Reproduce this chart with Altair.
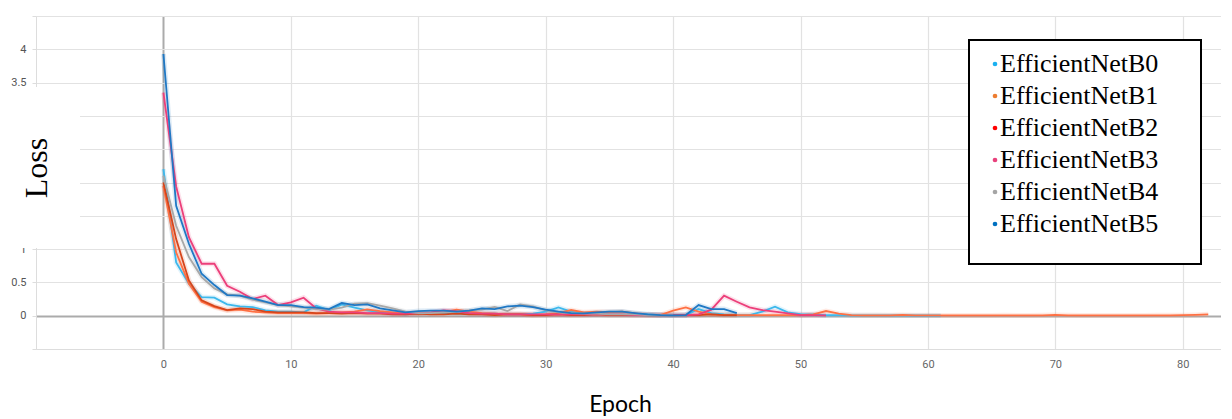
import altair as alt
import pandas as pd

models = ["EfficientNetB0", "EfficientNetB1", "EfficientNetB2",
          "EfficientNetB3", "EfficientNetB4", "EfficientNetB5"]

b0_loss = [2.20, 0.80, 0.48, 0.28, 0.27, 0.17, 0.14, 0.13, 0.08, 0.06,
           0.06, 0.05, 0.15, 0.08, 0.17, 0.12, 0.08, 0.05, 0.03, 0.02,
           0.03, 0.03, 0.04, 0.03, 0.03, 0.03, 0.03, 0.02, 0.02, 0.03,
           0.06, 0.125, 0.06, 0.03, 0.03, 0.05, 0.06, 0.03, 0.02, 0.01,
           0.01, 0.01, 0.10, 0.04, 0.02, 0.01, 0.01, 0.06, 0.135, 0.05,
           0.025, 0.02, 0.01, 0.01, 0.006, 0.005, 0.005, 0.004, 0.004, 0.003,
           0.003, 0.003]
b1_loss = [1.95, 0.95, 0.48, 0.21, 0.13, 0.08, 0.09, 0.06, 0.05, 0.04,
           0.04, 0.04, 0.03, 0.04, 0.05, 0.06, 0.095, 0.07, 0.05, 0.03,
           0.03, 0.04, 0.05, 0.09, 0.06, 0.04, 0.03, 0.02, 0.02, 0.01,
           0.02, 0.04, 0.085, 0.05, 0.06, 0.055, 0.06, 0.035, 0.01, 0.01,
           0.075, 0.125, 0.06, 0.02, 0.01, 0.01, 0.01, 0.01, 0.01, 0.01,
           0.01, 0.02, 0.07, 0.03, 0.01, 0.006, 0.005, 0.006, 0.012, 0.006,
           0.005, 0.004, 0.004, 0.004, 0.004, 0.004, 0.005, 0.004, 0.004, 0.006,
           0.012, 0.006, 0.004, 0.004, 0.004, 0.004, 0.004, 0.004, 0.005, 0.006,
           0.008, 0.012, 0.02]
b2_loss = [2.00, 1.15, 0.53, 0.23, 0.145, 0.085, 0.11, 0.10, 0.06, 0.05,
           0.05, 0.05, 0.04, 0.04, 0.03, 0.04, 0.03, 0.03, 0.02, 0.02,
           0.03, 0.02, 0.02, 0.03, 0.02, 0.02, 0.01, 0.02, 0.02, 0.01,
           0.01, 0.02, 0.01, 0.01, 0.02, 0.01, 0.01, 0.01, 0.01, 0.01,
           0.01, 0.01, 0.01, 0.02, 0.01, 0.01]
b3_loss = [3.35, 1.94, 1.18, 0.78, 0.78, 0.45, 0.36, 0.25, 0.30, 0.16,
           0.20, 0.27, 0.11, 0.06, 0.05, 0.05, 0.04, 0.04, 0.03, 0.03,
           0.04, 0.05, 0.08, 0.07, 0.04, 0.03, 0.03, 0.02, 0.02, 0.02,
           0.02, 0.02, 0.02, 0.02, 0.02, 0.02, 0.02, 0.01, 0.01, 0.01,
           0.01, 0.01, 0.02, 0.09, 0.30, 0.21, 0.125, 0.085, 0.06, 0.035,
           0.01, 0.01, 0.005]
b4_loss = [2.10, 1.35, 0.88, 0.58, 0.41, 0.32, 0.30, 0.24, 0.20, 0.16,
           0.14, 0.12, 0.10, 0.09, 0.12, 0.18, 0.19, 0.15, 0.11, 0.06,
           0.04, 0.04, 0.05, 0.06, 0.08, 0.09, 0.13, 0.07, 0.17, 0.14,
           0.08, 0.05, 0.04, 0.03, 0.03, 0.02, 0.02, 0.02, 0.01, 0.01,
           0.01]
b5_loss = [3.93, 1.65, 1.08, 0.63, 0.46, 0.31, 0.30, 0.26, 0.21, 0.16,
           0.16, 0.13, 0.12, 0.10, 0.19, 0.16, 0.17, 0.11, 0.08, 0.05,
           0.07, 0.075, 0.075, 0.06, 0.075, 0.11, 0.10, 0.14, 0.15, 0.13,
           0.09, 0.06, 0.04, 0.035, 0.05, 0.06, 0.06, 0.04, 0.02, 0.01,
           0.005, 0.01, 0.16, 0.10, 0.10, 0.04]

series = [b0_loss, b1_loss, b2_loss, b3_loss, b4_loss, b5_loss]

line_colors = ["#3db8ec", "#ff7043", "#d6451b", "#ec3f7a", "#a8a8a8", "#1f78c4"]
legend_colors = ["#1ab0f0", "#ed7d31", "#ff0000", "#e8417c", "#a5a5a5", "#0070c0"]

x_ticks = [0, 10, 20, 30, 40, 50, 60, 70, 80]
y_ticks = [-0.5, 0, 0.5, 1, 1.5, 2, 2.5, 3, 3.5, 4, 4.5]
y_labels_shown = [0, 0.5, 1, 3.5, 4]

rows = []
for m, vals in zip(models, series):
    for e, v in enumerate(vals):
        rows.append({"model": m, "epoch": e, "loss": v})
df = pd.DataFrame(rows)

grid_color = {"condition": {"test": "datum.value === 0", "value": "#ababab"}, "value": "#e2e2e2"}
grid_width = {"condition": {"test": "datum.value === 0", "value": 2}, "value": 1.2}

x_enc = alt.X(
    "epoch:Q",
    scale=alt.Scale(domain=[-10, 83], nice=False, zero=False),
    axis=alt.Axis(
        values=x_ticks, title="Epoch", grid=True,
        gridColor=grid_color, gridWidth=grid_width,
        domainColor="#dddddd", ticks=False,
        labelFont="Roboto", labelFontSize=11, labelColor="#666666", labelPadding=9,
        titleFont="Lato", titleFontSize=23, titleFontWeight="normal", titleColor="#000000",
        titlePadding=24, titleX=584,
    ),
)
y_enc = alt.Y(
    "loss:Q",
    scale=alt.Scale(domain=[-0.5, 4.5], nice=False, zero=False),
    axis=alt.Axis(
        values=y_ticks, title=None, grid=True, format="~g",
        gridColor=grid_color, gridWidth=grid_width,
        labelExpr="indexof(" + str(y_labels_shown) + ", datum.value) >= 0 ? datum.label : ''",
        domainColor="#dddddd", tickColor="#dddddd", tickSize=4,
        labelFont="Roboto", labelFontSize=11, labelColor="#555555", labelPadding=6,
    ),
)
# stroke scale uses the data-derived (alphabetical) domain so its (disabled) legend
# is not merged with the visible fill legend below
stroke_enc = alt.Stroke("model:N", scale=alt.Scale(range=line_colors), legend=None)

dummy = pd.DataFrame({"k": [0]})

# legend frame (drawn below the legend itself)
legend_box = alt.Chart(dummy).mark_rect(
    fill="#ffffff", stroke="#000000", strokeWidth=2
).encode(x=alt.value(933), x2=alt.value(1165), y=alt.value(24), y2=alt.value(248))

base = alt.Chart(df)
halo = base.mark_line(strokeWidth=5, opacity=0.15).encode(x=x_enc, y=y_enc, stroke=stroke_enc)
lines = base.mark_line(strokeWidth=1.8).encode(x=x_enc, y=y_enc, stroke=stroke_enc)
legend_pts = base.mark_circle(size=1, opacity=0).encode(
    x=x_enc, y=y_enc,
    fill=alt.Fill(
        "model:N",
        scale=alt.Scale(domain=models, range=legend_colors),
        legend=alt.Legend(
            title=None, orient="none", legendX=946, legendY=35, direction="vertical",
            padding=0,
            symbolType="circle", symbolSize=22, symbolOffset=0, symbolStrokeWidth=0,
            symbolOpacity=1,
            labelFont="Liberation Serif", labelFontSize=26, labelColor="#000000",
            labelOffset={"expr": "-8"}, rowPadding=6, labelLimit=400,
        ),
    ),
)

cover = alt.Chart(dummy).mark_rect(color="#ffffff").encode(
    x=alt.value(-36), x2=alt.value(44), y=alt.value(71), y2=alt.value(232)
)
loss_title = alt.Chart(dummy).mark_text(
    text="Loss", angle=270, font="Liberation Serif", fontSize=32, color="#000000"
).encode(x=alt.value(1), y=alt.value(152))

chart = alt.layer(halo, lines, legend_box, legend_pts, cover, loss_title).properties(
    width=1185, height=333,
    autosize=alt.AutoSizeParams(type="none"),
    padding={"left": 28, "top": 8, "right": 0, "bottom": 70},
).configure_view(stroke=None)

chart.save("out.html", embed_options={"renderer": "svg", "actions": False})
